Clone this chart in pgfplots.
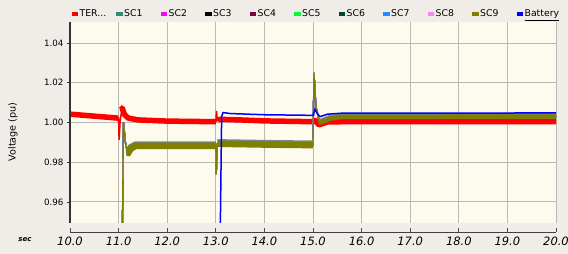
\documentclass[border=0pt]{standalone}
\usepackage{fontspec}
\setmainfont{DejaVu Sans}[ItalicFont={DejaVu Sans Oblique}, BoldItalicFont={DejaVu Sans Bold Oblique}]
\usepackage{pgfplots}
\usepackage{pgfplotstable}
\pgfplotsset{compat=1.18}
\definecolor{bgout}{RGB}{240,237,232}
\definecolor{bgplot}{RGB}{253,250,238}
\definecolor{gridc}{RGB}{186,186,180}
\definecolor{cter}{RGB}{255,0,0}
\definecolor{csc1}{RGB}{46,139,118}
\definecolor{csc1b}{RGB}{112,138,140}
\definecolor{csc2}{RGB}{255,0,255}
\definecolor{csc3}{RGB}{0,0,0}
\definecolor{csc4}{RGB}{128,0,64}
\definecolor{csc5}{RGB}{0,250,60}
\definecolor{csc6}{RGB}{0,70,50}
\definecolor{csc7}{RGB}{30,144,255}
\definecolor{csc8}{RGB}{255,130,240}
\definecolor{csc9}{RGB}{128,128,0}
\definecolor{cbat}{RGB}{0,0,255}
\newcommand{\legtxt}[1]{\makebox[35pt][l]{\fontsize{9.3}{10}\selectfont #1}}

\pgfplotstableread{
t v
10.00 1.0042
11.00 1.0022
11.01 0.9912
11.03 1.0000
11.07 1.0075
11.12 1.0040
11.20 1.0022
11.40 1.0013
12.00 1.0007
13.00 1.0004
13.015 1.0058
13.03 1.0010
13.08 1.0016
13.50 1.0013
14.00 1.0008
15.00 1.0004
15.05 1.0012
15.12 0.9985
15.30 1.0003
16.00 1.0005
20.00 1.0005
}\terline
\pgfplotstableread{
t v
10.00 1.0042
10.995 1.0022
nan nan
11.05 1.0065
11.075 1.0072
11.12 1.0040
11.20 1.0022
11.40 1.0013
12.00 1.0007
13.00 1.0004
nan nan
13.04 1.0012
13.08 1.0016
13.50 1.0013
14.00 1.0008
15.00 1.0004
15.05 1.0010
15.12 0.9988
15.30 1.0003
16.00 1.0005
20.00 1.0005
}\terband
\pgfplotstableread{
t v
11.06 0.9000
11.10 1.0002
11.14 0.9900
11.19 0.9840
11.24 0.9865
11.32 0.9880
12.00 0.9882
13.00 0.9882
13.01 0.9740
13.025 0.9893
13.50 0.9892
14.00 0.9889
15.00 0.9886
15.02 1.0250
15.06 1.0080
15.14 0.9995
15.30 1.0018
15.60 1.0028
20.00 1.0030
}\scline
\pgfplotstableread{
t v
11.17 0.9850
11.20 0.9848
11.25 0.9868
11.35 0.9882
12.00 0.9882
13.00 0.9882
nan nan
13.03 0.9893
14.00 0.9889
15.00 0.9886
}\scbandA
\pgfplotstableread{
t v
15.12 0.9998
15.20 1.0005
15.35 1.0020
15.60 1.0028
20.00 1.0030
}\scbandB
\pgfplotstableread{
t v
11.17 0.9857
11.20 0.9855
11.25 0.9875
11.35 0.9889
12.00 0.9889
13.00 0.9889
nan nan
13.03 0.9900
14.00 0.9896
15.00 0.9893
}\sconeA
\pgfplotstableread{
t v
15.12 1.0005
15.20 1.0012
15.35 1.0027
15.60 1.0035
20.00 1.0037
}\sconeB
\pgfplotstableread{
t v
13.07 0.9000
13.12 1.0030
13.15 1.0050
13.30 1.0045
14.00 1.0039
15.00 1.0036
15.04 1.0066
15.10 1.0040
15.15 1.0030
15.30 1.0042
15.60 1.0047
20.00 1.0048
}\batline

\begin{document}
\begin{tikzpicture}
\fill[bgout] (0,0) rectangle (568pt,254pt);
\path[use as bounding box] (0,0) rectangle (568pt,254pt);
\begin{axis}[
  name=main,
  at={(70pt,31pt)}, anchor=south west,
  scale only axis, width=486pt, height=201pt,
  xmin=10, xmax=20, ymin=0.9494, ymax=1.0506,
  axis background/.style={fill=bgplot},
  axis line style={draw=none},
  xtick={10,11,...,20}, xticklabels={}, x tick style={draw=none},
  ytick={0.96,0.98,1.00,1.02,1.04}, ytick pos=left,
  y tick style={black!80, line width=0.8pt},
  tick align=outside, major tick length=3pt,
  grid=major, grid style={gridc, line width=1pt},
  /pgf/number format/assume math mode=true,
  yticklabel style={font=\fontsize{8.7}{10}\selectfont,
    /pgf/number format/fixed, /pgf/number format/fixed zerofill,
    /pgf/number format/precision=2},
  unbounded coords=jump,
  legend columns=11,
  legend style={at={(0.003,1.04)}, anchor=west, draw=none, fill=none,
    inner sep=0pt, column sep=0pt,
    nodes={inner xsep=1.5pt, inner ysep=0pt}},
  legend image code/.code={\fill[#1, draw=none] (0pt,-2.3pt) rectangle (6.5pt,2.3pt);},
]
\addplot[color=cter, line width=5.5pt, line join=round, forget plot] table[x=t,y=v] {\terband};
\addplot[color=cter, line width=1.5pt] table[x=t,y=v] {\terline};
\addlegendentry{\legtxt{TER...}}
\addplot[color=csc1b, line width=6.5pt, forget plot] table[x=t,y=v] {\sconeA};
\addplot[color=csc1b, line width=4.5pt, forget plot] table[x=t,y=v] {\sconeB};
\addplot[color=csc1, line width=1.2pt] table[x=t,y=v] {\scline};
\addlegendentry{\legtxt{SC1}}
\addplot[color=csc2, line width=1.2pt] table[x=t,y=v] {\scline};
\addlegendentry{\legtxt{SC2}}
\addplot[color=csc3, line width=1.2pt] table[x=t,y=v] {\scline};
\addlegendentry{\legtxt{SC3}}
\addplot[color=csc4, line width=1.2pt] table[x=t,y=v] {\scline};
\addlegendentry{\legtxt{SC4}}
\addplot[color=csc5, line width=1.2pt] table[x=t,y=v] {\scline};
\addlegendentry{\legtxt{SC5}}
\addplot[color=csc6, line width=1.2pt] table[x=t,y=v] {\scline};
\addlegendentry{\legtxt{SC6}}
\addplot[color=csc7, line width=1.2pt] table[x=t,y=v] {\scline};
\addlegendentry{\legtxt{SC7}}
\addplot[color=csc8, line width=1.2pt] table[x=t,y=v] {\scline};
\addlegendentry{\legtxt{SC8}}
\addplot[color=csc9, line width=6.5pt, forget plot] table[x=t,y=v] {\scbandA};
\addplot[color=csc9, line width=4.5pt, forget plot] table[x=t,y=v] {\scbandB};
\addplot[color=csc9, line width=1.3pt] table[x=t,y=v] {\scline};
\addlegendentry{\legtxt{SC9}}
\addplot[color=cbat, line width=1.5pt] table[x=t,y=v] {\batline};
\addlegendentry{\legtxt{\underline{Battery}}}
\end{axis}
\draw[black!80, line width=1.2pt] (main.south west) -- (main.north west);
\begin{axis}[
  at={(70pt,22pt)}, anchor=south west,
  scale only axis, width=486pt, height=4pt,
  xmin=10, xmax=20, ymin=0, ymax=1,
  axis x line=bottom, axis y line=none,
  axis line style={-, black!75, line width=0.9pt},
  xtick={10,11,...,20}, tick align=inside, major tick length=4pt,
  x tick style={black!70, line width=0.9pt},
  /pgf/number format/assume math mode=true,
  xticklabel style={font=\fontsize{11.5}{13}\selectfont\itshape, yshift=-1pt,
    /pgf/number format/fixed, /pgf/number format/fixed zerofill,
    /pgf/number format/precision=1},
]
\addplot[draw=none] coordinates {(10,0)};
\end{axis}
\node[font=\fontsize{7}{8}\selectfont\bfseries\itshape] at (25pt,14pt) {sec};
\node[rotate=90, font=\fontsize{9.6}{11}\selectfont] at (13pt,122pt) {Voltage (pu)};
\end{tikzpicture}
\end{document}
